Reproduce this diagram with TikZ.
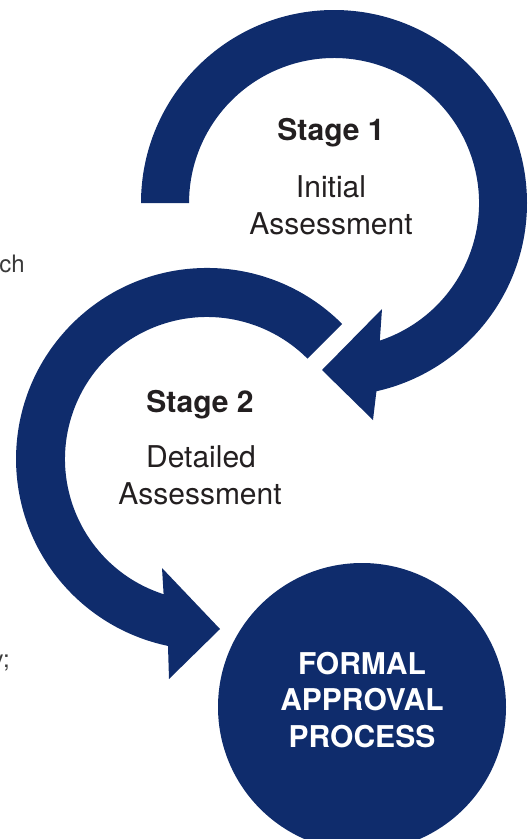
\documentclass[tikz,border=0pt]{standalone}
\usepackage{fontspec}
\setmainfont{TeX Gyre Heros}
\definecolor{navy}{HTML}{0F2C6C}
\definecolor{ink}{HTML}{231F20}
\definecolor{greytext}{HTML}{3A3A3A}
\begin{document}
\begin{tikzpicture}[x=1pt,y=-1pt,
  band/.style={fill=navy},
  stagehead/.style={font=\fontsize{30}{36}\selectfont\bfseries,text=ink,inner sep=0pt,anchor=base},
  stagetext/.style={font=\fontsize{30}{36}\selectfont,text=ink,inner sep=0pt,anchor=base},
  sidetext/.style={font=\fontsize{24}{28}\selectfont,text=greytext,inner sep=0pt,anchor=base east},
  approval/.style={circle,fill=navy,minimum size=288pt,inner sep=0pt},
  formaltext/.style={font=\fontsize{30}{36.5}\selectfont\bfseries,text=white,align=center,inner sep=0pt}]
\useasboundingbox (0,0) rectangle (529,839);
\clip (0,0) rectangle (529,839);
% stage 1 arrow
\fill[band] (141,203) arc[start angle=180, end angle=437.3, radius=193]
  -- (373,420) -- (322,370) -- (382,309) -- (379.8,340.6)
  arc[start angle=71.6, end angle=-180, radius=145] -- cycle;
% stage 2 arrow
\fill[band] (342.1,323.9) arc[start angle=-45, end angle=-258.2, radius=191]
  -- (169,679) -- (220,629) -- (162,568) -- (163.6,594.2)
  arc[start angle=-252.2, end angle=-45, radius=142] -- cycle;
\node[approval] (approval) at (362,707) {};
\node[formaltext] (formal) at ([yshift=7pt]approval.center) {FORMAL\\APPROVAL\\PROCESS};
\node[stagehead] (stage1) at (331,140) {Stage 1};
\node[stagetext] (initial) at (331,197) {Initial};
\node[stagetext] (assess1) at (331,234) {Assessment};
\node[stagehead] (stage2) at (200,412) {Stage 2};
\node[stagetext] (detailed) at (201,467) {Detailed};
\node[stagetext] (assess2) at (200,504) {Assessment};
\node[sidetext] (sideA) at (25,272) {ch};
\node[sidetext] (sideB) at (10,667) {y;};
\end{tikzpicture}
\end{document}
